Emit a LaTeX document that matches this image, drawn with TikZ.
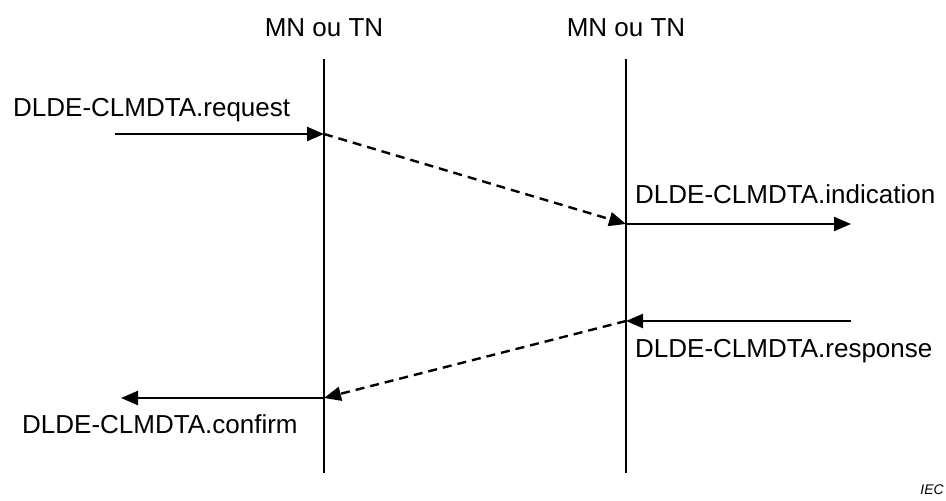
\documentclass[tikz,border=0pt]{standalone}
\usepackage{fontspec}
\setmainfont{Liberation Sans}
\usetikzlibrary{arrows.meta}
\begin{document}
\begin{tikzpicture}[x=1pt,y=-1pt,
  lbl/.style={inner sep=0pt,font=\fontsize{26}{30}\selectfont},
  life/.style={line width=2.4pt},
  msg/.style={line width=2.4pt,-{Triangle[length=17pt,width=14pt]}},
  dmsg/.style={line width=2.4pt,dash pattern=on 9pt off 6pt,-{Triangle[length=17pt,width=14pt]}}]
\useasboundingbox (0,0) rectangle (946,501);
% headers
\node[lbl,anchor=base] (hL) at (324,36) {MN ou TN};
\node[lbl,anchor=base] (hR) at (626,36) {MN ou TN};
% lifelines
\coordinate (lT) at (324,59);
\coordinate (lB) at (324,473);
\coordinate (rT) at (626,59);
\coordinate (rB) at (626,473);
\draw[life] (lT) -- (lB);
\draw[life] (rT) -- (rB);
% message points
\coordinate (reqS) at (115,134);
\coordinate (reqE) at (324,134);
\coordinate (indS) at (626,224);
\coordinate (indE) at (851,224);
\coordinate (resS) at (851,321);
\coordinate (resE) at (626,321);
\coordinate (conS) at (324,398);
\coordinate (conE) at (121,398);
\draw[msg] (reqS) -- (reqE);
\draw[dmsg] (reqE) -- (indS);
\draw[msg] (indS) -- (indE);
\draw[msg] (resS) -- (resE);
\draw[dmsg] (resE) -- (conS);
\draw[msg] (conS) -- (conE);
% labels
\node[lbl,anchor=base west] (treq) at (13,116) {DLDE-CLMDTA.request};
\node[lbl,anchor=base west] (tind) at (635,203) {DLDE-CLMDTA.indication};
\node[lbl,anchor=base west] (tres) at (635,357) {DLDE-CLMDTA.response};
\node[lbl,anchor=base west] (tcon) at (22,433) {DLDE-CLMDTA.confirm};
\node[inner sep=0pt,anchor=base east,font=\fontsize{14}{16}\selectfont\itshape] (iec) at (944,494) {IEC};
\end{tikzpicture}
\end{document}
